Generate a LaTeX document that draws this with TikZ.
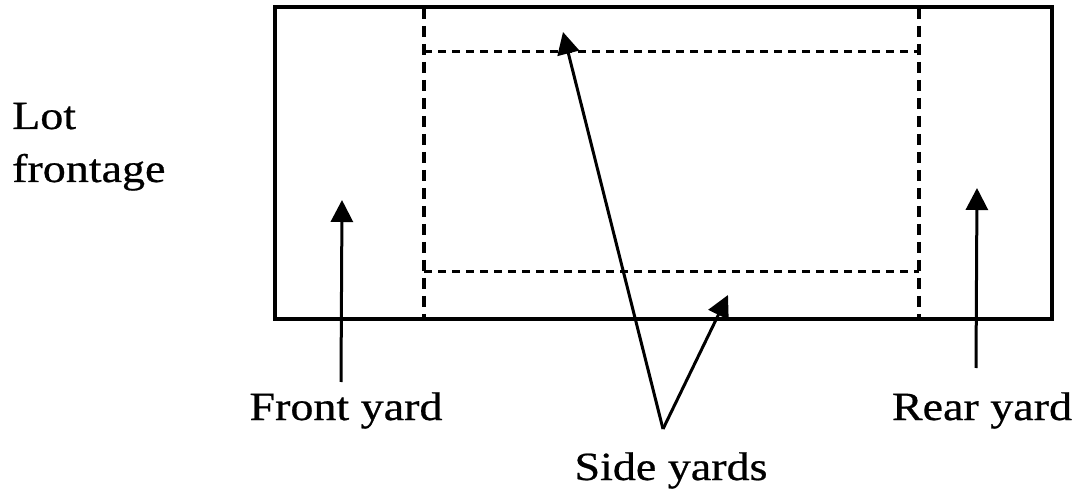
\documentclass[tikz,border=0pt]{standalone}
\usepackage{fontspec}
\setmainfont{Liberation Serif}
\newfontfamily\heavy{Liberation Serif}[FakeBold=0.6]
\usetikzlibrary{arrows.meta}
\tikzset{
  lbl/.style={inner sep=0pt, font=\heavy\fontsize{40}{44}\selectfont},
  lot/.style={draw, line width=3.6pt},
  vdash/.style={line width=3.2pt, dash pattern=on 11pt off 7pt},
  hdash/.style={line width=3pt, dash pattern=on 8pt off 6pt},
  pointer/.style={line width=3pt, -{Triangle[length=22pt,width=22pt]}}
}
\newcommand{\wide}[1]{\scalebox{1.15}[1]{#1}}
\begin{document}
\begin{tikzpicture}[x=1pt,y=1pt]
\useasboundingbox (0,0) rectangle (1076,493);
% lot outline
\node[lot, minimum width=777pt, minimum height=312pt, inner sep=0pt, anchor=south west] (lotbox) at (273,172) {};
% setback lines
\coordinate (vlt) at (424,485);
\coordinate (vlb) at (424,172);
\coordinate (vrt) at (919,485);
\coordinate (vrb) at (919,172);
\coordinate (htl) at (424,441);
\coordinate (htr) at (919,441);
\coordinate (hbl) at (424,221);
\coordinate (hbr) at (919,221);
\draw[vdash] (vlt) -- (vlb);
\draw[vdash] (vrt) -- (vrb);
\draw[hdash] (htl) -- (htr);
\draw[hdash] (hbl) -- (hbr);
% labels
\node[lbl, anchor=base west] (lot1) at (12,364) {\wide{Lot}};
\node[lbl, anchor=base west] (lot2) at (12,311) {\wide{frontage}};
\node[lbl, anchor=base] (front) at (346,73) {\wide{Front yard}};
\node[lbl, anchor=base] (rear) at (982,73) {\wide{Rear yard}};
\node[lbl, anchor=base] (side) at (671,13) {\wide{Side yards}};
% arrows
\coordinate (fbot) at (341,111);
\coordinate (ftip) at (342,293);
\coordinate (rbot) at (976,125);
\coordinate (rtip) at (977,305);
\coordinate (sv) at (663,64);
\coordinate (stop) at (563,461);
\coordinate (sbot) at (728,198);
\draw[pointer] (fbot) -- (ftip);
\draw[pointer] (rbot) -- (rtip);
\draw[pointer] (sv) -- (stop);
\draw[pointer] (sv) -- (sbot);
\end{tikzpicture}
\end{document}
